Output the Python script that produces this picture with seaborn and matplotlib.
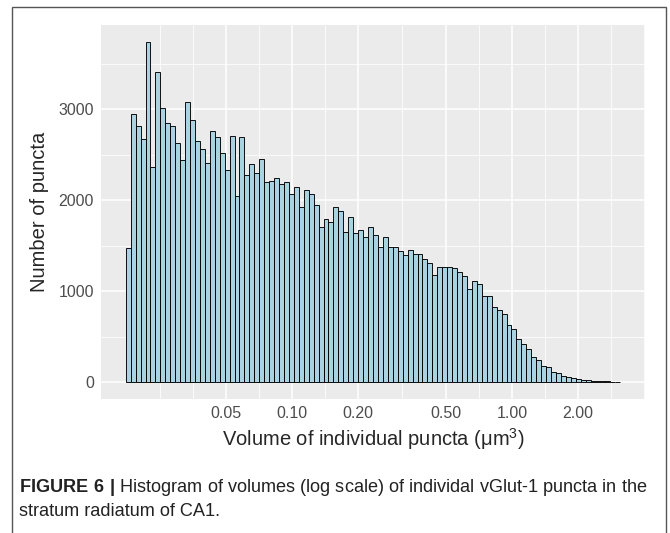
import numpy as np
import pandas as pd
import matplotlib
matplotlib.use("Agg")
import matplotlib.pyplot as plt
import seaborn as sns
from matplotlib.ticker import FixedLocator, FixedFormatter
from matplotlib.patches import Rectangle

# counts per log-spaced bin (100 bins)
counts = [1470, 2950, 2820, 2670, 3740, 2370, 3410, 3010, 2850, 2820,
          2630, 2440, 3080, 2880, 2650, 2560, 2410, 2760, 2690, 2520,
          2330, 2710, 2050, 2690, 2280, 2400, 2300, 2450, 2200, 2210,
          2240, 2180, 2200, 2070, 2140, 1920, 2110, 2070, 1950, 1710,
          1790, 1760, 1930, 1880, 1650, 1810, 1640, 1670, 1600, 1700,
          1620, 1490, 1590, 1490, 1490, 1440, 1400, 1450, 1410, 1410,
          1350, 1310, 1180, 1260, 1265, 1265, 1255, 1205, 1165, 1020,
          1110, 1075, 945, 948, 824, 790, 745, 625, 580, 473,
          418, 363, 271, 245, 172, 160, 106, 99, 70, 51,
          40, 33, 26, 20, 15, 12, 9, 7, 5, 4]
vol_min = 0.0175
vol_max = 3.11

x_breaks = [0.05, 0.10, 0.20, 0.50, 1.00, 2.00]
x_labels = ["0.05", "0.10", "0.20", "0.50", "1.00", "2.00"]
y_breaks = [0, 1000, 2000, 3000]
y_labels = ["0", "1000", "2000", "3000"]

edges = np.logspace(np.log10(vol_min), np.log10(vol_max), len(counts) + 1)
df = pd.DataFrame({"volume": np.sqrt(edges[:-1] * edges[1:]), "count": counts})

sns.set_style("darkgrid")
plt.rcParams["font.family"] = ["Liberation Sans", "DejaVu Sans"]
plt.rcParams["mathtext.fontset"] = "custom"
plt.rcParams["mathtext.default"] = "regular"
plt.rcParams["mathtext.bf"] = "Liberation Sans:bold"
plt.rcParams["mathtext.rm"] = "Liberation Sans"

fig = plt.figure(figsize=(6.7, 5.33), dpi=100)
ax = fig.add_axes([101 / 670, 1 - 399 / 533, 544 / 670, 374 / 533])

sns.histplot(data=df, x="volume", weights="count", bins=len(counts),
             binrange=(np.log10(vol_min), np.log10(vol_max)), log_scale=True,
             color="#A9D3E0", alpha=1, edgecolor="black", linewidth=0.65, ax=ax)

ax.set_facecolor("#EBEBEB")
for s in ax.spines.values():
    s.set_visible(False)

# ggplot-like major/minor breaks
ext = np.r_[np.log10(0.025), np.log10(x_breaks), np.log10(4.0)]
x_minor = 10 ** np.r_[ext, (ext[:-1] + ext[1:]) / 2]
ax.xaxis.set_major_locator(FixedLocator(x_breaks))
ax.xaxis.set_major_formatter(FixedFormatter(x_labels))
ax.xaxis.set_minor_locator(FixedLocator(x_minor))
ax.xaxis.set_minor_formatter(FixedFormatter([""] * len(x_minor)))
ax.yaxis.set_major_locator(FixedLocator(y_breaks))
ax.yaxis.set_major_formatter(FixedFormatter(y_labels))
ax.yaxis.set_minor_locator(FixedLocator([500, 1500, 2500, 3500]))

ax.grid(which="major", color="white", linewidth=1.1)
ax.grid(which="minor", color="white", linewidth=0.55)
ax.set_axisbelow(True)

lo, hi = np.log10(vol_min), np.log10(vol_max)
pad = 0.05 * (hi - lo)
ax.set_xlim(10 ** (lo - pad), 10 ** (hi + pad))
top = max(counts)
ax.set_ylim(-0.05 * top, 1.05 * top)

ax.tick_params(which="major", length=3, width=0.8, color="#333333",
               labelcolor="#4D4D4D", labelsize=11.5, pad=2)
ax.tick_params(which="minor", length=0)

ax.set_xlabel("Volume of individual puncta (μm$^{3}$)", fontsize=14.5, labelpad=4)
ax.set_ylabel("Number of puncta", fontsize=14.5, labelpad=7)

fig.text(19 / 670, 1 - 487 / 533,
         r"$\mathbf{FIGURE\ 6\ |}$ Histogram of volumes (log scale) of individal vGlut-1 puncta in the",
         fontsize=13.1, color="#222222", va="center", ha="left")
fig.text(19 / 670, 1 - 511 / 533, "stratum radiatum of CA1.",
         fontsize=13.1, color="#222222", va="center", ha="left")

fig.add_artist(Rectangle((12 / 670, -0.05), 654 / 670, 0.05 + 1 - 7 / 533,
                         transform=fig.transFigure, fill=False,
                         edgecolor="#555555", linewidth=1.0, clip_on=False))

fig.savefig("out.png", dpi=100)
